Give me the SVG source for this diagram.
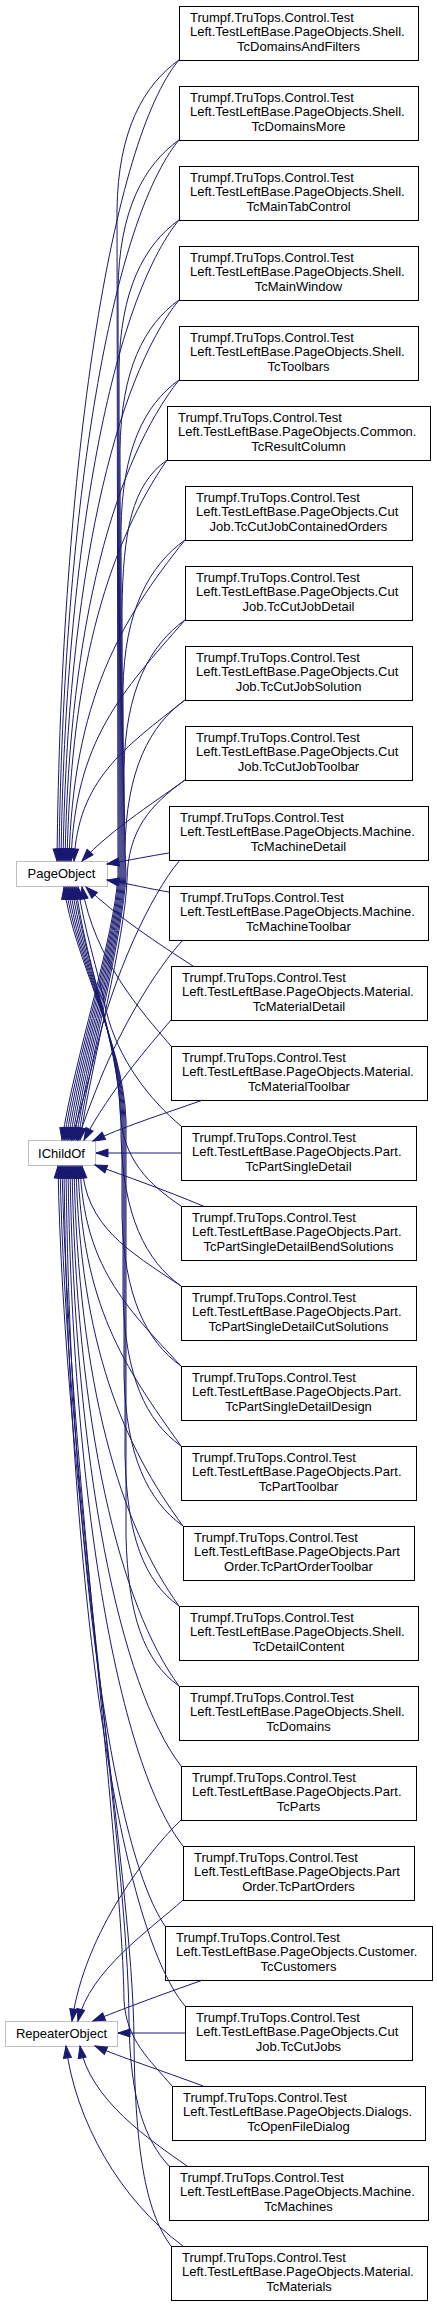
<svg xmlns="http://www.w3.org/2000/svg" width="437" height="2307" viewBox="0 0 437 2307">
<style>
.n rect{fill:#fff;stroke:#000;stroke-width:1}
.b rect{fill:#fff;stroke:#bfbfbf;stroke-width:1}
text{font-family:"Liberation Sans",Arial,Helvetica,sans-serif;font-size:13px;fill:#000}
.m{text-anchor:middle}
#edges path{fill:none;stroke:#191970;stroke-width:1;marker-end:url(#ah)}
</style>
<defs>
<marker id="ah" markerUnits="userSpaceOnUse" markerWidth="14" markerHeight="10" refX="12" refY="4.5" orient="auto" overflow="visible"><path d="M0,0.5 L12,4.5 L0,8.5 z" fill="#191970" stroke="#191970" stroke-width="1"/></marker>
</defs>
<rect width="437" height="2307" fill="#fff"/>

<g id="PageObject" class="b"><rect x="16.5" y="861.5" width="91" height="25"/><text class="m" x="61.5" y="878">PageObject</text></g>
<g id="IChildOf" class="b"><rect x="28.5" y="1140.5" width="67" height="25"/><text class="m" x="61.5" y="1157.5">IChildOf</text></g>
<g id="RepeaterObject" class="b"><rect x="5.5" y="2021.5" width="112" height="25"/><text class="m" x="61.5" y="2038">RepeaterObject</text></g>

<g id="n0" class="n"><rect x="179.5" y="6.5" width="239" height="54"/><text x="190" y="21.5">Trumpf.TruTops.Control.Test</text><text x="190" y="36">Left.TestLeftBase.PageObjects.Shell.</text><text class="m" x="298.5" y="50.5">TcDomainsAndFilters</text></g>
<g id="n1" class="n"><rect x="179.5" y="86.5" width="239" height="54"/><text x="190" y="101.5">Trumpf.TruTops.Control.Test</text><text x="190" y="116">Left.TestLeftBase.PageObjects.Shell.</text><text class="m" x="298.5" y="130.5">TcDomainsMore</text></g>
<g id="n2" class="n"><rect x="179.5" y="166.5" width="239" height="54"/><text x="190" y="181.5">Trumpf.TruTops.Control.Test</text><text x="190" y="196">Left.TestLeftBase.PageObjects.Shell.</text><text class="m" x="298.5" y="210.5">TcMainTabControl</text></g>
<g id="n3" class="n"><rect x="179.5" y="246.5" width="239" height="54"/><text x="190" y="261.5">Trumpf.TruTops.Control.Test</text><text x="190" y="276">Left.TestLeftBase.PageObjects.Shell.</text><text class="m" x="298.5" y="290.5">TcMainWindow</text></g>
<g id="n4" class="n"><rect x="179.5" y="326.5" width="239" height="54"/><text x="190" y="341.5">Trumpf.TruTops.Control.Test</text><text x="190" y="356">Left.TestLeftBase.PageObjects.Shell.</text><text class="m" x="298.5" y="370.5">TcToolbars</text></g>
<g id="n5" class="n"><rect x="167.5" y="406.5" width="263" height="54"/><text x="178" y="421.5">Trumpf.TruTops.Control.Test</text><text x="178" y="436">Left.TestLeftBase.PageObjects.Common.</text><text class="m" x="298.5" y="450.5">TcResultColumn</text></g>
<g id="n6" class="n"><rect x="185.5" y="486.5" width="227" height="54"/><text x="196" y="501.5">Trumpf.TruTops.Control.Test</text><text x="196" y="516">Left.TestLeftBase.PageObjects.Cut</text><text class="m" x="298.5" y="530.5">Job.TcCutJobContainedOrders</text></g>
<g id="n7" class="n"><rect x="185.5" y="566.5" width="227" height="54"/><text x="196" y="581.5">Trumpf.TruTops.Control.Test</text><text x="196" y="596">Left.TestLeftBase.PageObjects.Cut</text><text class="m" x="298.5" y="610.5">Job.TcCutJobDetail</text></g>
<g id="n8" class="n"><rect x="185.5" y="646.5" width="227" height="54"/><text x="196" y="661.5">Trumpf.TruTops.Control.Test</text><text x="196" y="676">Left.TestLeftBase.PageObjects.Cut</text><text class="m" x="298.5" y="690.5">Job.TcCutJobSolution</text></g>
<g id="n9" class="n"><rect x="185.5" y="726.5" width="227" height="54"/><text x="196" y="741.5">Trumpf.TruTops.Control.Test</text><text x="196" y="756">Left.TestLeftBase.PageObjects.Cut</text><text class="m" x="298.5" y="770.5">Job.TcCutJobToolbar</text></g>
<g id="n10" class="n"><rect x="169.5" y="806.5" width="259" height="54"/><text x="180" y="821.5">Trumpf.TruTops.Control.Test</text><text x="180" y="836">Left.TestLeftBase.PageObjects.Machine.</text><text class="m" x="298.5" y="850.5">TcMachineDetail</text></g>
<g id="n11" class="n"><rect x="169.5" y="886.5" width="259" height="54"/><text x="180" y="901.5">Trumpf.TruTops.Control.Test</text><text x="180" y="916">Left.TestLeftBase.PageObjects.Machine.</text><text class="m" x="298.5" y="930.5">TcMachineToolbar</text></g>
<g id="n12" class="n"><rect x="171.5" y="966.5" width="256" height="54"/><text x="182" y="981.5">Trumpf.TruTops.Control.Test</text><text x="182" y="996">Left.TestLeftBase.PageObjects.Material.</text><text class="m" x="299" y="1010.5">TcMaterialDetail</text></g>
<g id="n13" class="n"><rect x="171.5" y="1046.5" width="256" height="54"/><text x="182" y="1061.5">Trumpf.TruTops.Control.Test</text><text x="182" y="1076">Left.TestLeftBase.PageObjects.Material.</text><text class="m" x="299" y="1090.5">TcMaterialToolbar</text></g>
<g id="n14" class="n"><rect x="181.5" y="1126.5" width="235" height="54"/><text x="192" y="1141.5">Trumpf.TruTops.Control.Test</text><text x="192" y="1156">Left.TestLeftBase.PageObjects.Part.</text><text class="m" x="298.5" y="1170.5">TcPartSingleDetail</text></g>
<g id="n15" class="n"><rect x="181.5" y="1206.5" width="235" height="54"/><text x="192" y="1221.5">Trumpf.TruTops.Control.Test</text><text x="192" y="1236">Left.TestLeftBase.PageObjects.Part.</text><text class="m" x="298.5" y="1250.5">TcPartSingleDetailBendSolutions</text></g>
<g id="n16" class="n"><rect x="181.5" y="1286.5" width="235" height="54"/><text x="192" y="1301.5">Trumpf.TruTops.Control.Test</text><text x="192" y="1316">Left.TestLeftBase.PageObjects.Part.</text><text class="m" x="298.5" y="1330.5">TcPartSingleDetailCutSolutions</text></g>
<g id="n17" class="n"><rect x="181.5" y="1366.5" width="235" height="54"/><text x="192" y="1381.5">Trumpf.TruTops.Control.Test</text><text x="192" y="1396">Left.TestLeftBase.PageObjects.Part.</text><text class="m" x="298.5" y="1410.5">TcPartSingleDetailDesign</text></g>
<g id="n18" class="n"><rect x="181.5" y="1446.5" width="235" height="54"/><text x="192" y="1461.5">Trumpf.TruTops.Control.Test</text><text x="192" y="1476">Left.TestLeftBase.PageObjects.Part.</text><text class="m" x="298.5" y="1490.5">TcPartToolbar</text></g>
<g id="n19" class="n"><rect x="183.5" y="1526.5" width="231" height="54"/><text x="194" y="1541.5">Trumpf.TruTops.Control.Test</text><text x="194" y="1556">Left.TestLeftBase.PageObjects.Part</text><text class="m" x="298.5" y="1570.5">Order.TcPartOrderToolbar</text></g>
<g id="n20" class="n"><rect x="179.5" y="1606.5" width="239" height="54"/><text x="190" y="1621.5">Trumpf.TruTops.Control.Test</text><text x="190" y="1636">Left.TestLeftBase.PageObjects.Shell.</text><text class="m" x="298.5" y="1650.5">TcDetailContent</text></g>
<g id="n21" class="n"><rect x="179.5" y="1686.5" width="239" height="54"/><text x="190" y="1701.5">Trumpf.TruTops.Control.Test</text><text x="190" y="1716">Left.TestLeftBase.PageObjects.Shell.</text><text class="m" x="298.5" y="1730.5">TcDomains</text></g>
<g id="n22" class="n"><rect x="181.5" y="1766.5" width="235" height="54"/><text x="192" y="1781.5">Trumpf.TruTops.Control.Test</text><text x="192" y="1796">Left.TestLeftBase.PageObjects.Part.</text><text class="m" x="298.5" y="1810.5">TcParts</text></g>
<g id="n23" class="n"><rect x="183.5" y="1846.5" width="231" height="54"/><text x="194" y="1861.5">Trumpf.TruTops.Control.Test</text><text x="194" y="1876">Left.TestLeftBase.PageObjects.Part</text><text class="m" x="298.5" y="1890.5">Order.TcPartOrders</text></g>
<g id="n24" class="n"><rect x="165.5" y="1926.5" width="267" height="54"/><text x="176" y="1941.5">Trumpf.TruTops.Control.Test</text><text x="176" y="1956">Left.TestLeftBase.PageObjects.Customer.</text><text class="m" x="298.5" y="1970.5">TcCustomers</text></g>
<g id="n25" class="n"><rect x="185.5" y="2006.5" width="227" height="54"/><text x="196" y="2021.5">Trumpf.TruTops.Control.Test</text><text x="196" y="2036">Left.TestLeftBase.PageObjects.Cut</text><text class="m" x="298.5" y="2050.5">Job.TcCutJobs</text></g>
<g id="n26" class="n"><rect x="172.5" y="2086.5" width="253" height="54"/><text x="183" y="2101.5">Trumpf.TruTops.Control.Test</text><text x="183" y="2116">Left.TestLeftBase.PageObjects.Dialogs.</text><text class="m" x="298.5" y="2130.5">TcOpenFileDialog</text></g>
<g id="n27" class="n"><rect x="169.5" y="2166.5" width="259" height="54"/><text x="180" y="2181.5">Trumpf.TruTops.Control.Test</text><text x="180" y="2196">Left.TestLeftBase.PageObjects.Machine.</text><text class="m" x="298.5" y="2210.5">TcMachines</text></g>
<g id="n28" class="n"><rect x="171.5" y="2246.5" width="256" height="54"/><text x="182" y="2261.5">Trumpf.TruTops.Control.Test</text><text x="182" y="2276">Left.TestLeftBase.PageObjects.Material.</text><text class="m" x="299" y="2290.5">TcMaterials</text></g>

<g id="edges">
<path d="M179,60 C112,140 61,460 57,861"/>
<path d="M179,140 C113,220 63,500 59,861"/>
<path d="M179,220 C114,300 65,540 61,861"/>
<path d="M179,300 C115,380 67,580 63,861"/>
<path d="M179,380 C116,460 69,620 65,861"/>
<path d="M167,460 C112,540 71,660 67,861"/>
<path d="M185,540 C121,620 73,700 69,861"/>
<path d="M185,620 C122,692 75,740 71,861"/>
<path d="M185,700 C124,748 78,780 74,861"/>
<path d="M185,780 C165,795 110,830 82,861"/>
<path d="M179,60 C144,85 118,130 117,210 L118,875 C115,935 74,1060 62,1140"/>
<path d="M179,140 C144,165 119,210 118,290 L119,875 C116,935 76,1060 64,1140"/>
<path d="M179,220 C144,245 120,290 119,370 L120,875 C117,935 78,1060 66,1140"/>
<path d="M179,300 C144,325 121,370 120,450 L121,875 C118,935 80,1060 68,1140"/>
<path d="M179,380 C144,405 122,450 121,530 L122,875 C119,935 82,1060 70,1140"/>
<path d="M167,460 C132,485 123,530 122,610 L123,875 C120,935 84,1060 72,1140"/>
<path d="M185,540 C150,565 124,610 123,690 L124,875 C121,935 86,1060 74,1140"/>
<path d="M185,620 C150,645 125,690 124,770 L125,875 C122,935 88,1060 76,1140"/>
<path d="M185,700 C150,725 126,770 125,850 L126,875 C123,935 90,1060 78,1140"/>
<path d="M185,780 C150,805 128,830 127,880 C125,940 92,1060 80,1140"/>
<path d="M169,853 C150,856 130,860 107,864"/>
<path d="M169,892 C150,889 130,884 107,880"/>
<path d="M180,860 C150,895 112,980 96,1050 C88,1085 78,1115 72,1140"/>
<path d="M183,940 C155,970 120,1030 100,1080 C92,1100 84,1120 78,1140"/>
<path d="M193,966 C160,945 115,915 86,887"/>
<path d="M171,1020 C150,1045 110,1090 84,1140"/>
<path d="M171,1046 C140,1010 95,960 82,887"/>
<path d="M203,1100 C160,1115 120,1128 93,1141"/>
<path d="M181,1126 C150,1100 118,1060 106,1010 C98,970 84,930 78,887"/>
<path d="M181,1153 L96,1153"/>
<path d="M203,1206 C165,1190 125,1176 95,1165"/>
<path d="M181,1206 C150,1185 122,1160 120,1110 C118,1040 84,960 76,887"/>
<path d="M181,1286 C146,1261 123,1216 121,1136 L121,1120 C118,1040 84,960 74,887"/>
<path d="M181,1366 C146,1341 124,1296 122,1216 L122,1120 C119,1040 82,960 72,887"/>
<path d="M181,1446 C146,1421 125,1376 123,1296 L123,1120 C120,1040 80,960 70,887"/>
<path d="M183,1526 C148,1501 126,1456 124,1376 L124,1120 C121,1040 78,960 68,887"/>
<path d="M179,1606 C144,1581 127,1536 125,1456 L125,1120 C122,1040 76,960 66,887"/>
<path d="M179,1686 C144,1661 128,1616 126,1536 L126,1120 C123,1040 74,960 64,887"/>
<path d="M181,1286 C127,1250 86,1226 82,1166"/>
<path d="M181,1366 C125,1306 84,1266 80,1166"/>
<path d="M181,1446 C124,1366 82,1306 78,1166"/>
<path d="M183,1526 C124,1446 80,1346 76,1166"/>
<path d="M179,1606 C121,1526 78,1386 74,1166"/>
<path d="M179,1686 C120,1606 76,1426 72,1166"/>
<path d="M181,1766 C120,1686 74,1466 70,1166"/>
<path d="M183,1846 C120,1766 72,1506 68,1166"/>
<path d="M165,1926 C111,1846 70,1546 66,1166"/>
<path d="M185,2006 C118,1926 68,1586 64,1166"/>
<path d="M172,2086 C150,2060 126,2040 124,2000 C122,1850 68,1450 62,1166"/>
<path d="M169,2166 C145,2140 130,2100 129,2020 C128,1850 66,1480 60,1166"/>
<path d="M171,2246 C148,2215 135,2160 134,2040 C133,1870 64,1500 58,1166"/>
<path d="M181,1820 C150,1850 85,1930 72,2021"/>
<path d="M183,1900 C150,1930 90,1970 78,2021"/>
<path d="M203,1980 C160,1995 120,2010 93,2021"/>
<path d="M185,2033 L118,2033"/>
<path d="M203,2086 C160,2070 120,2057 95,2046"/>
<path d="M187,2166 C150,2140 90,2100 80,2046"/>
<path d="M183,2246 C120,2200 75,2120 66,2046"/>
</g>
</svg>
